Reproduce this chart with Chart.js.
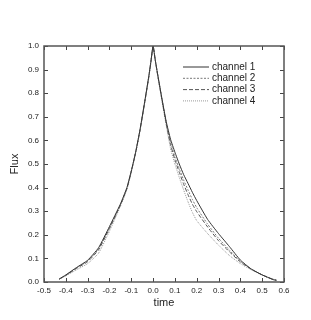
<!DOCTYPE html>
<html>
<head>
<meta charset="utf-8">
<script src="https://cdn.jsdelivr.net/npm/chart.js@4.4.1/dist/chart.umd.min.js"></script>
<style>
  html, body { margin: 0; padding: 0; background: #fff; }
  #wrap { width: 311px; height: 320px; }
</style>
</head>
<body>
<div id="wrap"><canvas id="myChart" width="311" height="320"></canvas></div>
<script>
// time axis (shared by all channels)
var times = [-0.43, -0.40, -0.35, -0.30, -0.25, -0.20, -0.15, -0.12, -0.10, -0.08, -0.06, -0.04, -0.02, -0.01,
             0.00, 0.01, 0.02, 0.04, 0.06, 0.08, 0.10, 0.12, 0.14, 0.16, 0.18, 0.20, 0.25, 0.30, 0.35, 0.40,
             0.45, 0.50, 0.55, 0.565];

// flux of each channel
var channel1 = [0.013, 0.030, 0.062, 0.092, 0.145, 0.235, 0.330, 0.400, 0.470, 0.550, 0.645, 0.755, 0.870, 0.935,
                1.000, 0.940, 0.885, 0.780, 0.680, 0.605, 0.550, 0.500, 0.455, 0.418, 0.380, 0.345, 0.265, 0.205,
                0.150, 0.093, 0.055, 0.030, 0.010, 0.007];
var channel2 = [0.012, 0.029, 0.060, 0.089, 0.140, 0.230, 0.327, 0.398, 0.470, 0.550, 0.645, 0.755, 0.868, 0.933,
                1.000, 0.940, 0.885, 0.778, 0.676, 0.592, 0.530, 0.480, 0.432, 0.390, 0.350, 0.315, 0.245, 0.185,
                0.135, 0.088, 0.055, 0.030, 0.011, 0.008];
var channel3 = [0.012, 0.028, 0.058, 0.086, 0.136, 0.226, 0.325, 0.396, 0.468, 0.548, 0.643, 0.753, 0.866, 0.932,
                1.000, 0.940, 0.882, 0.775, 0.672, 0.582, 0.518, 0.465, 0.415, 0.370, 0.330, 0.298, 0.233, 0.175,
                0.128, 0.085, 0.054, 0.030, 0.011, 0.008];
var channel4 = [0.012, 0.026, 0.052, 0.078, 0.122, 0.215, 0.320, 0.392, 0.465, 0.545, 0.640, 0.750, 0.865, 0.930,
                1.000, 0.938, 0.880, 0.770, 0.665, 0.565, 0.500, 0.443, 0.390, 0.340, 0.295, 0.260, 0.205, 0.156,
                0.112, 0.078, 0.052, 0.030, 0.012, 0.008];

var labels = ['channel 1', 'channel 2', 'channel 3', 'channel 4'];
var series = [channel1, channel2, channel3, channel4];
var colors = ['#333333', '#777777', '#555555', '#999999'];
var dashes = [[], [2, 1.5], [4, 2], [1, 1]];

function points(vals) {
    var pts = [];
    for (var i = 0; i < times.length; i++) {
        pts.push({ x: times[i], y: vals[i] });
    }
    return pts;
}

var datasets = [];
for (var k = 0; k < series.length; k++) {
    datasets.push({
        label: labels[k],
        data: points(series[k]),
        borderColor: colors[k],
        borderWidth: 1,
        borderDash: dashes[k],
        pointRadius: 0,
        tension: 0.15,
        fill: false
    });
}

// frame, inward ticks on all four sides, legend inside the plot
var framePlugin = {
    id: 'frame',
    afterDraw: function (chart) {
        var ctx = chart.ctx;
        var a = chart.chartArea;
        var xs = chart.scales.x, ys = chart.scales.y;
        ctx.save();
        ctx.strokeStyle = '#444';
        ctx.lineWidth = 1;
        xs.ticks.forEach(function (t) {
            var px = Math.round(xs.getPixelForValue(t.value)) + 0.5;
            ctx.beginPath();
            ctx.moveTo(px, a.bottom); ctx.lineTo(px, a.bottom - 4);
            ctx.moveTo(px, a.top); ctx.lineTo(px, a.top + 4);
            ctx.stroke();
        });
        ys.ticks.forEach(function (t) {
            var py = Math.round(ys.getPixelForValue(t.value)) + 0.5;
            ctx.beginPath();
            ctx.moveTo(a.left, py); ctx.lineTo(a.left + 4, py);
            ctx.moveTo(a.right, py); ctx.lineTo(a.right - 4, py);
            ctx.stroke();
        });
        ctx.lineWidth = 1.5;
        ctx.strokeStyle = '#555';
        ctx.strokeRect(a.left, a.top, a.right - a.left, a.bottom - a.top);

        // legend
        ctx.font = '10px "Liberation Sans", Arial, sans-serif';
        ctx.fillStyle = '#222';
        ctx.textBaseline = 'middle';
        chart.data.datasets.forEach(function (ds, i) {
            var y = 67 + i * 11.3;
            ctx.beginPath();
            ctx.lineWidth = 1;
            ctx.strokeStyle = ds.borderColor;
            ctx.setLineDash(ds.borderDash);
            ctx.moveTo(183, y); ctx.lineTo(209, y);
            ctx.stroke();
            ctx.setLineDash([]);
            ctx.fillText(ds.label, 212, y);
        });
        ctx.restore();
    }
};

var tickFont = { family: '"Liberation Sans", Arial, sans-serif', size: 8 };
var titleFont = { family: '"Liberation Sans", Arial, sans-serif', size: 11 };

function fmt(v) {
    if (Math.abs(v) < 1e-9) return '0.0';
    return v.toFixed(1);
}

var ctx = document.getElementById('myChart').getContext('2d');
var myChart = new Chart(ctx, {
    type: 'line',
    data: { datasets: datasets },
    options: {
        responsive: false,
        animation: false,
        layout: { padding: { top: 46, right: 27, left: 0, bottom: 0 } },
        plugins: { legend: { display: false }, tooltip: { enabled: false } },
        scales: {
            x: {
                type: 'linear',
                position: 'bottom',
                min: -0.5,
                max: 0.6,
                grid: { display: false, drawTicks: false },
                border: { display: false },
                ticks: { stepSize: 0.1, font: tickFont, color: '#222', padding: 4, maxRotation: 0,
                         callback: function (v) { return fmt(v); } },
                title: { display: true, text: 'time', font: titleFont, color: '#222', padding: { top: 0, bottom: 10 } },
                afterFit: function (s) { s.height = 38; }
            },
            y: {
                type: 'linear',
                position: 'left',
                min: 0,
                max: 1,
                grid: { display: false, drawTicks: false },
                border: { display: false },
                ticks: { stepSize: 0.1, font: tickFont, color: '#222', padding: 5,
                         callback: function (v) { return fmt(v); } },
                title: { display: true, text: 'Flux', font: titleFont, color: '#222', padding: { top: 8, bottom: 0 } },
                afterFit: function (s) { s.width = 44; }
            }
        }
    },
    plugins: [framePlugin]
});
</script>
</body>
</html>
